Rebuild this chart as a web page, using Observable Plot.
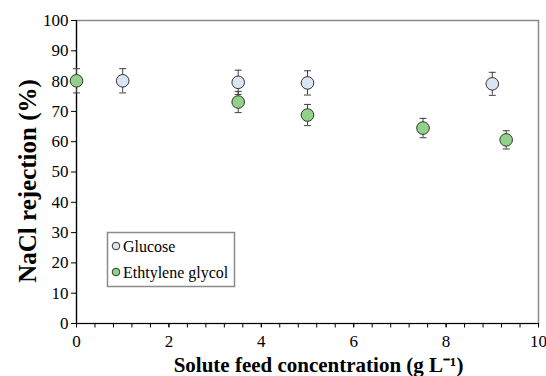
<!DOCTYPE html>
<html>
<head>
<meta charset="utf-8">
<script src="https://cdn.jsdelivr.net/npm/d3@7"></script>
<script src="https://cdn.jsdelivr.net/npm/@observablehq/plot@0.6"></script>
<style>
  html, body { margin: 0; padding: 0; background: #fff; }
  svg text { font-family: 'Liberation Serif', 'Times New Roman', serif !important; font-variant: normal !important; }
</style>
</head>
<body>
<div id="chart"></div>
<script>
// Data
const glucoseX = [1, 3.5, 5, 9];
const glucoseY = [80.1, 79.6, 79.4, 79.1];
const glucoseErr = [4.0, 4.0, 4.0, 3.8];

const egX = [0, 3.5, 5, 7.5, 9.3];
const egY = [80.1, 73.1, 68.8, 64.5, 60.6];
const egErr = [4.0, 3.5, 3.5, 3.2, 3.0];

const yTicks = [0, 10, 20, 30, 40, 50, 60, 70, 80, 90, 100];
const xMajorTicks = [0, 2, 4, 6, 8, 10];
const xMinorTicks = d3.range(0, 10.0001, 0.4);

const seriesNames = ["Glucose", "Ethtylene glycol"];
const seriesFill = ["#dae5f4", "#92d18a"];

const xLabel = "Solute feed concentration (g L\u207B\u00B9)";
const yLabel = "NaCl rejection (%)";

const glucose = glucoseX.map((x, i) => ({x, y: glucoseY[i], e: glucoseErr[i]}));
const eg = egX.map((x, i) => ({x, y: egY[i], e: egErr[i]}));

const capSymbol = {
  draw(context, size) {
    const w = Math.sqrt(size / Math.PI);
    context.moveTo(-w, 0);
    context.lineTo(w, 0);
  }
};
const tickSymbol = {
  draw(context, size) {
    const h = Math.sqrt(size / Math.PI);
    context.moveTo(0, 0);
    context.lineTo(0, h);
  }
};

const serif = "'Liberation Serif', 'Times New Roman', serif";
const errColor = "#404040";

function errorMarks(data) {
  return [
    Plot.ruleX(data, {x: "x", y1: d => d.y - d.e, y2: d => d.y + d.e, stroke: errColor, strokeWidth: 1}),
    Plot.dot(data, {x: "x", y: d => d.y + d.e, r: 3.5, symbol: capSymbol, stroke: errColor, fill: "none", strokeWidth: 1}),
    Plot.dot(data, {x: "x", y: d => d.y - d.e, r: 3.5, symbol: capSymbol, stroke: errColor, fill: "none", strokeWidth: 1})
  ];
}

const chart = Plot.plot({
  width: 546,
  height: 376,
  marginLeft: 76,
  marginRight: 8,
  marginTop: 20,
  marginBottom: 53,
  style: {fontFamily: serif, background: "#fff", color: "#000"},
  x: {domain: [0, 10]},
  y: {domain: [0, 100]},
  marks: [
    Plot.frame({stroke: "#8a8a8a", strokeWidth: 1.5}),
    Plot.axisY({ticks: yTicks, tickSize: 5, tickPadding: 3, fontSize: 17, fontFamily: serif, fontVariant: "normal", label: null, stroke: "#000"}),
    Plot.dot(xMinorTicks, {x: d => d, frameAnchor: "bottom", r: 4, symbol: tickSymbol, stroke: "#000", fill: "none", strokeWidth: 1}),
    Plot.axisX({ticks: xMajorTicks, tickSize: 4, tickPadding: 7, fontSize: 17, fontFamily: serif, fontVariant: "normal", label: null, stroke: "#000"}),
    Plot.ruleX([0], {stroke: "#000", strokeWidth: 1.2}),
    Plot.ruleY([0], {stroke: "#000", strokeWidth: 1.2}),
    ...errorMarks(glucose),
    ...errorMarks(eg),
    Plot.dot(glucose, {x: "x", y: "y", r: 6.3, fill: seriesFill[0], stroke: "#333", strokeWidth: 1}),
    Plot.dot(eg, {x: "x", y: "y", r: 6.3, fill: seriesFill[1], stroke: "#333", strokeWidth: 1}),
    Plot.text([yLabel], {frameAnchor: "left", textAnchor: "middle", lineAnchor: "middle", dx: -49, dy: 9, rotate: -90, fontSize: 25, fontWeight: "bold", fontFamily: serif, fill: "#000"}),
    Plot.text([xLabel], {frameAnchor: "bottom", textAnchor: "middle", lineAnchor: "middle", dx: 11, dy: 42, fontSize: 21, fontWeight: "bold", fontFamily: serif, fill: "#000"})
  ]
});

// Make sure every text uses the serif face
d3.select(chart).selectAll("text, g").style("font-family", serif).style("font-variant", "normal");

// Legend inside the plot area
const svg = d3.select(chart);
const lg = svg.append("g").attr("font-family", serif).attr("font-size", 16).attr("text-anchor", "start");
lg.append("rect").attr("x", 107.5).attr("y", 232.5).attr("width", 127).attr("height", 54)
  .attr("fill", "#fff").attr("stroke", "#8a8a8a").attr("stroke-width", 1.5);
seriesNames.forEach((name, i) => {
  const cy = 246 + i * 26;
  lg.append("circle").attr("cx", 116).attr("cy", cy).attr("r", 3.8)
    .attr("fill", seriesFill[i]).attr("stroke", "#333").attr("stroke-width", 1);
  lg.append("text").attr("x", 123).attr("y", cy).attr("dy", "0.35em")
    .attr("text-anchor", "start").attr("fill", "#000").style("font-family", serif).text(name);
});

document.getElementById("chart").appendChild(chart);
</script>
</body>
</html>
